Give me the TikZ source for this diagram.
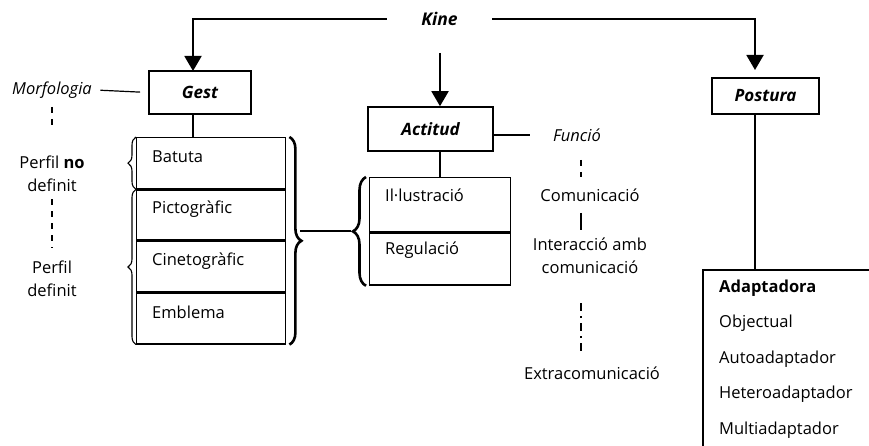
\documentclass[tikz,border=0pt]{standalone}
\usepackage{fontspec}
\setmainfont{Open Sans}
\usetikzlibrary{arrows.meta,decorations.pathreplacing,positioning}

\tikzset{
  every node/.style={font=\fontsize{16.5}{23}\selectfont},
  head/.style={draw,line width=1.6pt,inner sep=0pt,font=\fontsize{17}{23}\selectfont\bfseries\itshape},
  arr/.style={line width=1.9pt,-{Triangle[width=17pt,length=15pt]}},
  link/.style={line width=1.2pt},
  cell/.style={draw,line width=1.4pt,inner sep=0pt},
  txt/.style={anchor=west,inner sep=0pt},
  note/.style={align=center,inner sep=0pt},
  dsh/.style={line width=1.2pt,dash pattern=on 6pt off 6pt},
}

\begin{document}
\begin{tikzpicture}[x=1pt,y=-1pt]
\clip (0,0) rectangle (869,446);

% Top level
\node[font=\fontsize{17.5}{23}\selectfont\bfseries\itshape,minimum width=105pt] (kine) at (439.5,19) {Kine};
\node[head,minimum width=102pt,minimum height=43pt] (gest) at (200,92.5) {Gest};
\node[head,minimum width=125pt,minimum height=44pt] (actitud) at (430.5,129) {Actitud};
\node[head,minimum width=107pt,minimum height=36pt] (postura) at (765.5,96) {Postura};

\coordinate (gin) at (193,71);
\coordinate (kmid) at (440,53);
\coordinate (pin) at (755,78);

\draw[arr] (kine.west) -| (gin);
\draw[arr] (kmid) -- (actitud.north -| kmid);
\draw[arr,shorten >=8pt] (kine.east) -| (pin);

% Gest list
\node[cell,minimum width=149pt,minimum height=51pt,anchor=north west] (batuta) at (136,137) {};
\node[cell,minimum width=149pt,minimum height=50pt,below=0pt of batuta] (picto) {};
\node[cell,minimum width=149pt,minimum height=50pt,below=0pt of picto] (cineto) {};
\node[cell,minimum width=149pt,minimum height=51pt,below=0pt of cineto] (emblema) {};
\node[txt] at ([xshift=16pt,yshift=-20pt]batuta.north west) {Batuta};
\node[txt] at ([xshift=16pt,yshift=-20pt]picto.north west) {Pictogràfic};
\node[txt] at ([xshift=16pt,yshift=-20pt]cineto.north west) {Cinetogràfic};
\node[txt] at ([xshift=16pt,yshift=-20pt]emblema.north west) {Emblema};
\draw[link] (gest.south -| gin) -- (batuta.north -| gin);

% Braces of the Gest list
\draw[line width=1.1pt,decorate,decoration={brace,amplitude=8pt}] (batuta.south west) -- (batuta.north west);
\draw[line width=1.1pt,decorate,decoration={brace,amplitude=8pt}] (emblema.south west) -- (picto.north west);
\draw[line width=2.6pt,decorate,decoration={brace,amplitude=12pt}] ([xshift=3pt]batuta.north east) -- ([xshift=3pt]emblema.south east);

% Actitud list
\node[cell,minimum width=141pt,minimum height=54pt,anchor=north west] (illus) at (369,177) {};
\node[cell,minimum width=141pt,minimum height=52pt,below=0pt of illus] (regul) {};
\node[txt] at ([xshift=16pt,yshift=-18pt]illus.north west) {Il·lustració};
\node[txt] at ([xshift=16pt,yshift=-18pt]regul.north west) {Regulació};
\draw[link] (actitud.south -| kmid) -- (illus.north -| kmid);
\draw[line width=2.6pt,decorate,decoration={brace,amplitude=13pt}] ([xshift=-3pt]regul.south west) -- ([xshift=-3pt]illus.north west);

\coordinate (brR) at (300,231);
\coordinate (brL) at (351,231);
\draw[link] (brR) -- (brL);

% Morfologia side
\node[font=\fontsize{16.5}{23}\selectfont\itshape] (morf) at (52,90) {Morfologia};
\node[note] (perfilno) at (52,174) {Perfil \textbf{no}\\definit};
\node[note] (perfil) at (52,278.5) {Perfil\\definit};
\draw[link,shorten <=5pt,shorten >=8pt] (morf.east) -- (gest.west);
\draw[dsh] ([yshift=-5pt]morf.south) -- ++(0,19);
\draw[dsh,shorten <=7pt,shorten >=12pt] (perfilno.south) -- (perfil.north);

% Funcio side
\node[font=\fontsize{16.5}{23}\selectfont\itshape] (funcio) at (577,135) {Funció};
\node[note] (comu) at (590,195) {Comunicació};
\node[note] (inter) at (590,256) {Interacció amb\\comunicació};
\node[note] (extra) at (592,373) {Extracomunicació};
\draw[link,shorten >=20pt] (funcio.west -| actitud.east) -- (funcio.west);
\draw[dsh] (581,160) -- (581,177);
\draw[link] (581,213) -- (581,230);
\draw[line width=1.2pt,dash pattern=on 8pt off 5pt on 2pt off 5pt] (581,303) -- (581,351);

% Postura list
\coordinate (adapt) at (703,270);
\draw[link] (postura.south -| pin) -- (pin |- adapt);
\draw[line width=1.4pt] (880,270) -- (adapt) -- (703,460);
\node[txt,font=\fontsize{16.5}{23}\selectfont\bfseries] at (719,288) {Adaptadora};
\node[txt] at (719,323) {Objectual};
\node[txt] at (719,359) {Autoadaptador};
\node[txt] at (719,394) {Heteroadaptador};
\node[txt] at (719,430) {Multiadaptador};

\end{tikzpicture}
\end{document}
